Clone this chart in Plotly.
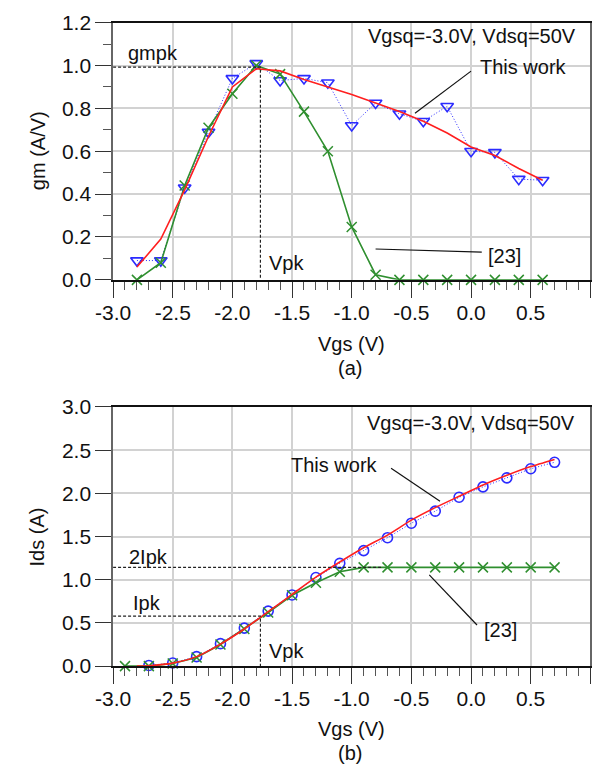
import plotly.graph_objects as go

# ---------------- data: (a) transconductance ----------------
vgs_a = [-2.8, -2.6, -2.4, -2.2, -2.0, -1.8, -1.6, -1.4, -1.2, -1.0, -0.8, -0.6, -0.4, -0.2, 0.0, 0.2, 0.4, 0.6]
gm_meas = [0.09, 0.09, 0.43, 0.69, 0.94, 1.01, 0.93, 0.94, 0.92, 0.72, 0.825, 0.775, 0.74, 0.81, 0.60, 0.595, 0.47, 0.465]
gm_model = [0.06, 0.19, 0.42, 0.67, 0.90, 0.985, 0.975, 0.935, 0.90, 0.865, 0.825, 0.785, 0.74, 0.685, 0.62, 0.58, 0.52, 0.465]
gm_ref23 = [0.0, 0.08, 0.44, 0.71, 0.868, 1.0, 0.96, 0.785, 0.60, 0.247, 0.024, 0.0, 0.0, 0.0, 0.0, 0.0, 0.0, 0.0]

# ---------------- data: (b) drain current ----------------
vgs_b = [-2.7, -2.5, -2.3, -2.1, -1.9, -1.7, -1.5, -1.3, -1.1, -0.9, -0.7, -0.5, -0.3, -0.1, 0.1, 0.3, 0.5, 0.7]
ids_meas = [0.008, 0.037, 0.11, 0.26, 0.44, 0.637, 0.824, 1.026, 1.19, 1.337, 1.487, 1.655, 1.794, 1.955, 2.075, 2.18, 2.285, 2.36]
vgs_b_model = [-2.8, -2.7, -2.5, -2.3, -2.1, -1.9, -1.7, -1.5, -1.3, -1.1, -0.9, -0.7, -0.5, -0.3, -0.1, 0.1, 0.3, 0.5, 0.7]
ids_model = [0.0, 0.005, 0.035, 0.11, 0.255, 0.43, 0.63, 0.83, 1.03, 1.205, 1.37, 1.517, 1.69, 1.835, 1.966, 2.097, 2.21, 2.31, 2.393]
vgs_b_ref = [-2.9, -2.7, -2.5, -2.3, -2.1, -1.9, -1.7, -1.5, -1.3, -1.1, -0.9, -0.7, -0.5, -0.3, -0.1, 0.1, 0.3, 0.5, 0.7]
ids_ref23 = [0.0, 0.0, 0.03, 0.10, 0.25, 0.43, 0.62, 0.82, 0.965, 1.093, 1.143, 1.143, 1.143, 1.143, 1.143, 1.143, 1.143, 1.143, 1.143]

# reference markers
v_pk = -1.765
gm_pk = 0.993
i_pk = 0.58
i_2pk = 1.143
v_2pk_end = -0.75

# ticks
x_ticks = [-3.0, -2.5, -2.0, -1.5, -1.0, -0.5, 0.0, 0.5, 1.0]
x_tick_labels = ["-3.0", "-2.5", "-2.0", "-1.5", "-1.0", "-0.5", "0.0", "0.5", "1.0"]
ya_ticks = [0.0, 0.2, 0.4, 0.6, 0.8, 1.0, 1.2]
ya_tick_labels = ["0.0", "0.2", "0.4", "0.6", "0.8", "1.0", "1.2"]
yb_ticks = [0.0, 0.5, 1.0, 1.5, 2.0, 2.5, 3.0]
yb_tick_labels = ["0.0", "0.5", "1.0", "1.5", "2.0", "2.5", "3.0"]

FONT = "Liberation Sans, Arial, sans-serif"
BLUE = "#2b2bff"
RED = "#ff1f1f"
GREEN = "#2f8f2f"
GRID = "#d2d2d2"

fig = go.Figure()

# ---- (a) ----
fig.add_trace(go.Scatter(x=vgs_a, y=gm_meas, mode="lines+markers", xaxis="x", yaxis="y",
                         line=dict(color=BLUE, width=1, dash="1px,2px"),
                         marker=dict(symbol="triangle-down-open", size=11, color=BLUE, line=dict(width=1.6)),
                         cliponaxis=False))
fig.add_trace(go.Scatter(x=vgs_a, y=gm_ref23, mode="lines+markers", xaxis="x", yaxis="y",
                         line=dict(color=GREEN, width=1.6),
                         marker=dict(symbol="x-thin", size=10, color=GREEN, line=dict(width=1.5, color=GREEN)),
                         cliponaxis=False))
fig.add_trace(go.Scatter(x=vgs_a, y=gm_model, mode="lines", xaxis="x", yaxis="y",
                         line=dict(color=RED, width=1.6), cliponaxis=False))
fig.add_trace(go.Scatter(x=[-3.0, v_pk, v_pk], y=[gm_pk, gm_pk, 0.0], mode="lines", xaxis="x", yaxis="y",
                         line=dict(color="#222", width=1.2, dash="3px,2px")))

# ---- (b) ----
fig.add_trace(go.Scatter(x=vgs_b, y=ids_meas, mode="lines+markers", xaxis="x2", yaxis="y2",
                         line=dict(color=BLUE, width=1, dash="1px,2px"),
                         marker=dict(symbol="circle-open", size=10, color=BLUE, line=dict(width=1.6)),
                         cliponaxis=False))
fig.add_trace(go.Scatter(x=vgs_b_ref, y=ids_ref23, mode="lines+markers", xaxis="x2", yaxis="y2",
                         line=dict(color=GREEN, width=1.6),
                         marker=dict(symbol="x-thin", size=10, color=GREEN, line=dict(width=1.5, color=GREEN)),
                         cliponaxis=False))
fig.add_trace(go.Scatter(x=vgs_b_model, y=ids_model, mode="lines", xaxis="x2", yaxis="y2",
                         line=dict(color=RED, width=1.6, shape="spline", smoothing=0.6), cliponaxis=False))
fig.add_trace(go.Scatter(x=[-3.0, v_pk, v_pk], y=[i_pk, i_pk, 0.0], mode="lines", xaxis="x2", yaxis="y2",
                         line=dict(color="#222", width=1.2, dash="3px,2px")))
fig.add_trace(go.Scatter(x=[-3.0, v_2pk_end], y=[i_2pk, i_2pk], mode="lines", xaxis="x2", yaxis="y2",
                         line=dict(color="#222", width=1.2, dash="3px,2px")))

# leader lines
leaders = [
    ("x", "y", [0.0, -0.47], [0.974, 0.777]),
    ("x", "y", [-0.8, 0.09], [0.144, 0.129]),
    ("x2", "y2", [-0.67, -0.26], [2.29, 1.91]),
    ("x2", "y2", [0.05, -0.35], [0.476, 1.056]),
]
for xr, yr, xs, ys in leaders:
    fig.add_shape(type="line", xref=xr, yref=yr, x0=xs[0], x1=xs[1], y0=ys[0], y1=ys[1],
                  line=dict(color="#111", width=1.2))

xdom = [98 / 602, 590 / 602]
dom_a = [1 - 276 / 780, 1 - 11 / 780]
dom_b = [1 - 674 / 780, 1 - 407 / 780]

def xaxis_cfg(anchor):
    return dict(domain=xdom, anchor=anchor, range=[-3.0, 1.0], tickvals=x_ticks, ticktext=x_tick_labels,
                showgrid=True, gridcolor=GRID, gridwidth=1.5, zeroline=False,
                showline=True, linecolor="#111", linewidth=1.5, mirror=True,
                ticks="outside", ticklen=16, tickwidth=1.3, tickcolor="#333", ticklabelstandoff=-3,
                minor=dict(dtick=0.1, tick0=0, ticks="outside", ticklen=8, tickwidth=1.2, tickcolor="#555", showgrid=False),
                tickfont=dict(family=FONT, size=21, color="#111"), fixedrange=True)

def yaxis_cfg(anchor, dom, rng, tv, tt, minor):
    cfg = dict(domain=dom, anchor=anchor, range=rng, tickvals=tv, ticktext=tt,
               showgrid=True, gridcolor=GRID, gridwidth=1.5, zeroline=False,
               showline=True, linecolor="#666", linewidth=1.5, mirror=True,
               ticks="outside", ticklen=16, tickwidth=1.3, tickcolor="#333",
               tickfont=dict(family=FONT, size=21, color="#111"), fixedrange=True)
    if minor:
        cfg["minor"] = dict(dtick=0.1, tick0=0, ticks="outside", ticklen=8, tickwidth=1.2, tickcolor="#555", showgrid=False)
    return cfg

txt = dict(family=FONT, size=20, color="#111")
annotations = [
    # (a)
    dict(x=-2.89, y=1.06, xref="x", yref="y", text="gmpk", xanchor="left", yanchor="middle"),
    dict(x=-1.71, y=0.078, xref="x", yref="y", text="Vpk", xanchor="left", yanchor="middle"),
    dict(x=0.895, y=1.14, xref="x", yref="y", text="Vgsq=-3.0V, Vdsq=50V", xanchor="right", yanchor="middle"),
    dict(x=0.44, y=0.995, xref="x", yref="y", text="This work", xanchor="center", yanchor="middle"),
    dict(x=0.28, y=0.11, xref="x", yref="y", text="[23]", xanchor="center", yanchor="middle"),
    # (b)
    dict(x=-2.88, y=1.26, xref="x2", yref="y2", text="2Ipk", xanchor="left", yanchor="middle"),
    dict(x=-2.85, y=0.73, xref="x2", yref="y2", text="Ipk", xanchor="left", yanchor="middle"),
    dict(x=-1.71, y=0.18, xref="x2", yref="y2", text="Vpk", xanchor="left", yanchor="middle"),
    dict(x=0.89, y=2.82, xref="x2", yref="y2", text="Vgsq=-3.0V, Vdsq=50V", xanchor="right", yanchor="middle"),
    dict(x=-0.76, y=2.33, xref="x2", yref="y2", text="This work", xanchor="right", yanchor="middle"),
    dict(x=0.25, y=0.42, xref="x2", yref="y2", text="[23]", xanchor="center", yanchor="middle"),
    # axis titles
    dict(x=344 / 602, y=1 - 342 / 780, xref="paper", yref="paper", text="Vgs (V)", xanchor="center", yanchor="middle"),
    dict(x=342 / 602, y=1 - 367 / 780, xref="paper", yref="paper", text="(a)", xanchor="center", yanchor="middle"),
    dict(x=344 / 602, y=1 - 739 / 780, xref="paper", yref="paper", text="Vgs (V)", xanchor="center", yanchor="middle"),
    dict(x=342 / 602, y=1 - 763 / 780, xref="paper", yref="paper", text="(b)", xanchor="center", yanchor="middle"),
    dict(x=20 / 602, y=1 - 143 / 780, xref="paper", yref="paper", text="gm (A/V)", textangle=-90, xanchor="center", yanchor="middle"),
    dict(x=20 / 602, y=1 - 541 / 780, xref="paper", yref="paper", text="Ids (A)", textangle=-90, xanchor="center", yanchor="middle"),
]
for a in annotations:
    a["showarrow"] = False
    a["font"] = txt

fig.update_layout(
    width=602, height=780,
    margin=dict(l=0, r=0, t=0, b=0),
    paper_bgcolor="white", plot_bgcolor="white",
    showlegend=False,
    xaxis=xaxis_cfg("y"),
    yaxis=yaxis_cfg("x", dom_a, [0, 1.2], ya_ticks, ya_tick_labels, True),
    xaxis2=xaxis_cfg("y2"),
    yaxis2=yaxis_cfg("x2", dom_b, [0, 3.0], yb_ticks, yb_tick_labels, False),
    annotations=annotations,
    font=txt,
)

fig.write_html("out.html")
